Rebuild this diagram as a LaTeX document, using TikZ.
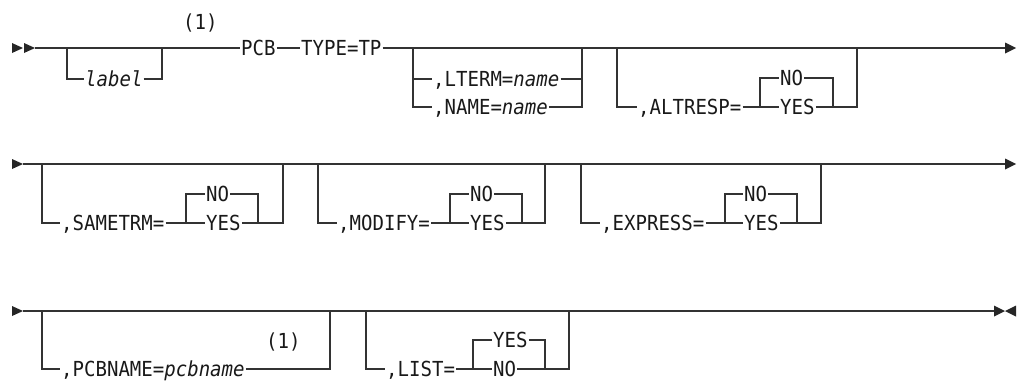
\documentclass[tikz,border=0pt]{standalone}
\usepackage{fontspec}
\setmonofont[FakeStretch=0.92]{DejaVu Sans Mono}
\tikzset{
    rail/.style={draw=black!80, line width=1.4pt},
    kw/.style={
        anchor=west,
        text=black!90,
        font=\ttfamily\fontsize{20.7}{20.7}\selectfont,
        inner xsep=1pt,
        inner ysep=0pt,
        text height=15pt,
        text depth=0pt
    },
    tip/.style={fill=black!85}
}
\begin{document}
\begin{tikzpicture}[x=1pt, y=-1pt]
\useasboundingbox (0,0) rectangle (1018,381);

% First line: start and end marks
\fill[tip] (12,43) -- (23,48) -- (12,53) -- cycle;
\fill[tip] (24,43) -- (35,48) -- (24,53) -- cycle;
\fill[tip] (1005,42.5) -- (1016,48) -- (1005,53.5) -- cycle;
\coordinate (s1) at (35,48);
\coordinate (e1) at (1005,48);

% Optional label
\node[kw] (lbl) at (84,79) {\itshape label};
\node[kw] (note1) at (182,22) {(1)};
\coordinate (lblin) at (67,48);
\coordinate (lblout) at (162,48);
\draw[rail] (lblin) |- (lbl);
\draw[rail] (lbl) -| (lblout);

% PCB and TYPE=TP
\node[kw] (pcb) at (240,48) {PCB};
\node[kw] (type) at (300,48) {TYPE=TP};
\draw[rail] (s1) -- (pcb);
\draw[rail] (pcb) -- (type);
\draw[rail] (type) -- (e1);

% LTERM or NAME
\node[kw] (lterm) at (432,79) {,LTERM=\textit{name}};
\node[kw] (nm) at (432,107) {,NAME=\textit{name}};
\coordinate (ltin) at (413,48);
\coordinate (ltout) at (582,48);
\draw[rail] (ltin) |- (nm);
\draw[rail] (ltin |- lterm) -- (lterm);
\draw[rail] (nm) -| (ltout);
\draw[rail] (lterm) -- (ltout |- lterm);

% ALTRESP
\node[kw] (alt) at (637,107) {,ALTRESP=};
\node[kw] (altno) at (779,78) {NO};
\node[kw] (altyes) at (779,107) {YES};
\coordinate (altin) at (617,48);
\coordinate (altout) at (857,48);
\coordinate (altsplit) at (760,107);
\coordinate (altjoin) at (833,107);
\draw[rail] (altin) |- (alt);
\draw[rail] (alt) -- (altyes);
\draw[rail] (altsplit) |- (altno);
\draw[rail] (altno) -| (altjoin);
\draw[rail] (altyes) -| (altout);

% Second line: start and end marks
\fill[tip] (12,159) -- (23,164) -- (12,169) -- cycle;
\fill[tip] (1005,158.5) -- (1016,164) -- (1005,169.5) -- cycle;
\coordinate (s2) at (23,164);
\coordinate (e2) at (1005,164);
\draw[rail] (s2) -- (e2);

% SAMETRM
\node[kw] (sam) at (60,223) {,SAMETRM=};
\node[kw] (samno) at (205,194) {NO};
\node[kw] (samyes) at (205,223) {YES};
\coordinate (samin) at (42,164);
\coordinate (samout) at (283,164);
\coordinate (samsplit) at (186,223);
\coordinate (samjoin) at (258,223);
\draw[rail] (samin) |- (sam);
\draw[rail] (sam) -- (samyes);
\draw[rail] (samsplit) |- (samno);
\draw[rail] (samno) -| (samjoin);
\draw[rail] (samyes) -| (samout);

% MODIFY
\node[kw] (mod) at (337,223) {,MODIFY=};
\node[kw] (modno) at (469,194) {NO};
\node[kw] (modyes) at (469,223) {YES};
\coordinate (modin) at (318,164);
\coordinate (modout) at (545,164);
\coordinate (modsplit) at (450,223);
\coordinate (modjoin) at (522,223);
\draw[rail] (modin) |- (mod);
\draw[rail] (mod) -- (modyes);
\draw[rail] (modsplit) |- (modno);
\draw[rail] (modno) -| (modjoin);
\draw[rail] (modyes) -| (modout);

% EXPRESS
\node[kw] (exp) at (600,223) {,EXPRESS=};
\node[kw] (expno) at (743,194) {NO};
\node[kw] (expyes) at (743,223) {YES};
\coordinate (expin) at (581,164);
\coordinate (expout) at (821,164);
\coordinate (expsplit) at (725,223);
\coordinate (expjoin) at (797,223);
\draw[rail] (expin) |- (exp);
\draw[rail] (exp) -- (expyes);
\draw[rail] (expsplit) |- (expno);
\draw[rail] (expno) -| (expjoin);
\draw[rail] (expyes) -| (expout);

% Third line: start and end marks
\fill[tip] (12,306) -- (23,311) -- (12,316) -- cycle;
\fill[tip] (994,305.5) -- (1005,311) -- (994,316.5) -- cycle;
\fill[tip] (1016,305.5) -- (1005,311) -- (1016,316.5) -- cycle;
\coordinate (s3) at (23,311);
\coordinate (e3) at (994,311);
\draw[rail] (s3) -- (e3);
\draw[rail, line width=2.6pt] (575,311) -- (598,311);

% PCBNAME
\node[kw] (pcbn) at (60,369) {,PCBNAME=\textit{pcbname}};
\node[kw] (note2) at (265,341) {(1)};
\coordinate (pcbnin) at (42,311);
\coordinate (pcbnout) at (330,311);
\draw[rail] (pcbnin) |- (pcbn);
\draw[rail] (pcbn) -| (pcbnout);

% LIST
\node[kw] (list) at (385,369) {,LIST=};
\node[kw] (listyes) at (492,340) {YES};
\node[kw] (listno) at (492,369) {NO};
\coordinate (listin) at (366,311);
\coordinate (listout) at (569,311);
\coordinate (listsplit) at (473,369);
\coordinate (listjoin) at (545,369);
\draw[rail] (listin) |- (list);
\draw[rail] (list) -- (listno);
\draw[rail] (listsplit) |- (listyes);
\draw[rail] (listyes) -| (listjoin);
\draw[rail] (listno) -| (listout);
\end{tikzpicture}
\end{document}
